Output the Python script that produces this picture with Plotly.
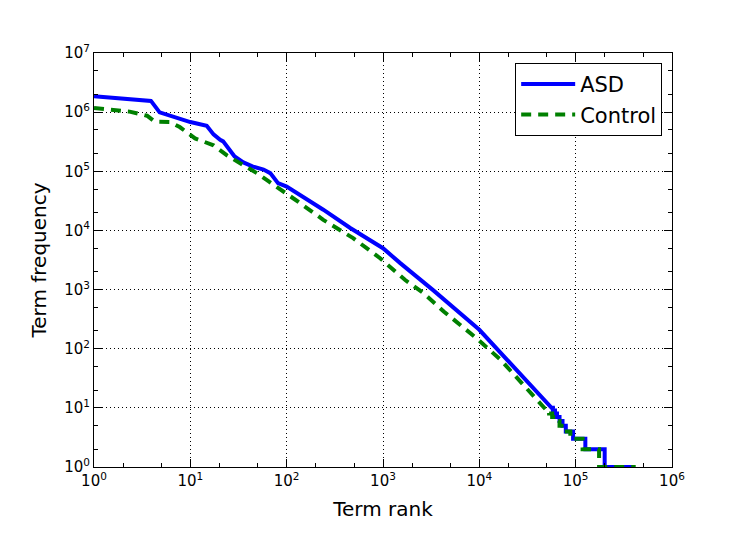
import plotly.graph_objects as go

# ---- data ----
asd_rank = [1, 3.9, 4.8, 6.3, 10, 14.8, 17.4, 20.4, 21.9, 28.8, 35.5, 44.7, 57.5, 67.6,
            81.3, 100, 240, 457, 1000, 1510, 3310, 10000, 16600, 36300, 56200]
asd_freq = [1.86e6, 1.55e6, 9.9e5, 8.7e5, 6.8e5, 5.9e5, 4.2e5, 3.4e5, 3.2e5, 1.78e5,
            1.41e5, 1.2e5, 1.07e5, 9.3e4, 6.3e4, 5.5e4, 2.24e4, 1.1e4, 5000, 2800, 980,
            209, 85, 21.6, 10]
asd_tail_levels = [10, 9, 8, 7, 6, 5, 4, 3, 2, 1]
asd_tail_ends = [58000, 61000, 64000, 68000, 73000, 79000, 94000, 126000, 200000, 400000]

ctl_rank = [1, 2.34, 3.55, 4.27, 6.17, 7.76, 11.2, 17.4, 24.0, 33.1, 49.0, 64.6, 93.3,
            123, 240, 490, 933, 1700, 2630, 4270, 9330, 16600, 30900, 50100]
ctl_freq = [1.17e6, 1.02e6, 8.7e5, 6.9e5, 6.8e5, 5.6e5, 3.6e5, 2.75e5, 1.86e5, 1.38e5,
            9.3e4, 6.8e4, 4.6e4, 3.3e4, 1.51e4, 7400, 3390, 1450, 870, 427, 151, 65,
            21.4, 9.5]
ctl_tail_levels = [9, 8, 7, 6, 5, 4, 3, 2, 1]
ctl_tail_ends = [53000, 57000, 62000, 68000, 76000, 88000, 118000, 175000, 420000]

x_tickvals = [1, 10, 100, 1000, 1e4, 1e5, 1e6]
x_ticktext = ["10<sup>%d</sup>" % i for i in range(7)]
y_tickvals = [1, 10, 100, 1000, 1e4, 1e5, 1e6, 1e7]
y_ticktext = ["10<sup>%d</sup>" % i for i in range(8)]


def staircase(ranks, freqs, levels, ends):
    xs, ys = list(ranks), list(freqs)
    for lv, e in zip(levels, ends):
        if ys[-1] != lv:
            xs.append(xs[-1])
            ys.append(lv)
        xs.append(e)
        ys.append(lv)
    return xs, ys


ax, ay = staircase(asd_rank, asd_freq, asd_tail_levels, asd_tail_ends)
cx, cy = staircase(ctl_rank, ctl_freq, ctl_tail_levels, ctl_tail_ends)

fig = go.Figure()
fig.add_trace(go.Scatter(x=ax, y=ay, mode="lines", name="ASD",
                         line=dict(color="#0000ff", width=4)))
fig.add_trace(go.Scatter(x=cx, y=cy, mode="lines", name="Control",
                         line=dict(color="#008000", width=4, dash="10px,7px")))

axis_common = dict(
    type="log", showline=True, linecolor="black", linewidth=1, mirror="allticks",
    ticks="inside", ticklen=8, tickwidth=1, tickcolor="black",
    showgrid=True, gridcolor="black", gridwidth=1, griddash="1px,3px",
    zeroline=False,
    minor=dict(ticks="inside", ticklen=4, tickcolor="black", showgrid=False),
    tickfont=dict(family="DejaVu Sans", size=15, color="black"),
)

fig.update_xaxes(range=[0, 6], tickvals=x_tickvals, ticktext=x_ticktext,
                 title=dict(text="Term rank", font=dict(family="DejaVu Sans", size=20, color="black"),
                            standoff=12),
                 **axis_common)
fig.update_yaxes(range=[0, 7], tickvals=y_tickvals, ticktext=y_ticktext,
                 title=dict(text="Term frequency", font=dict(family="DejaVu Sans", size=20, color="black"),
                            standoff=12),
                 **axis_common)

fig.update_layout(
    width=747, height=534,
    margin=dict(l=86, r=83, t=45, b=75),
    paper_bgcolor="white", plot_bgcolor="white",
    font=dict(family="DejaVu Sans", color="black"),
    showlegend=True,
    legend=dict(x=0.983, y=0.976, xanchor="right", yanchor="top",
                bgcolor="white", bordercolor="black", borderwidth=1,
                font=dict(family="DejaVu Sans", size=21, color="black"),
                itemwidth=54, tracegroupgap=6),
)

fig.write_html("out.html")
